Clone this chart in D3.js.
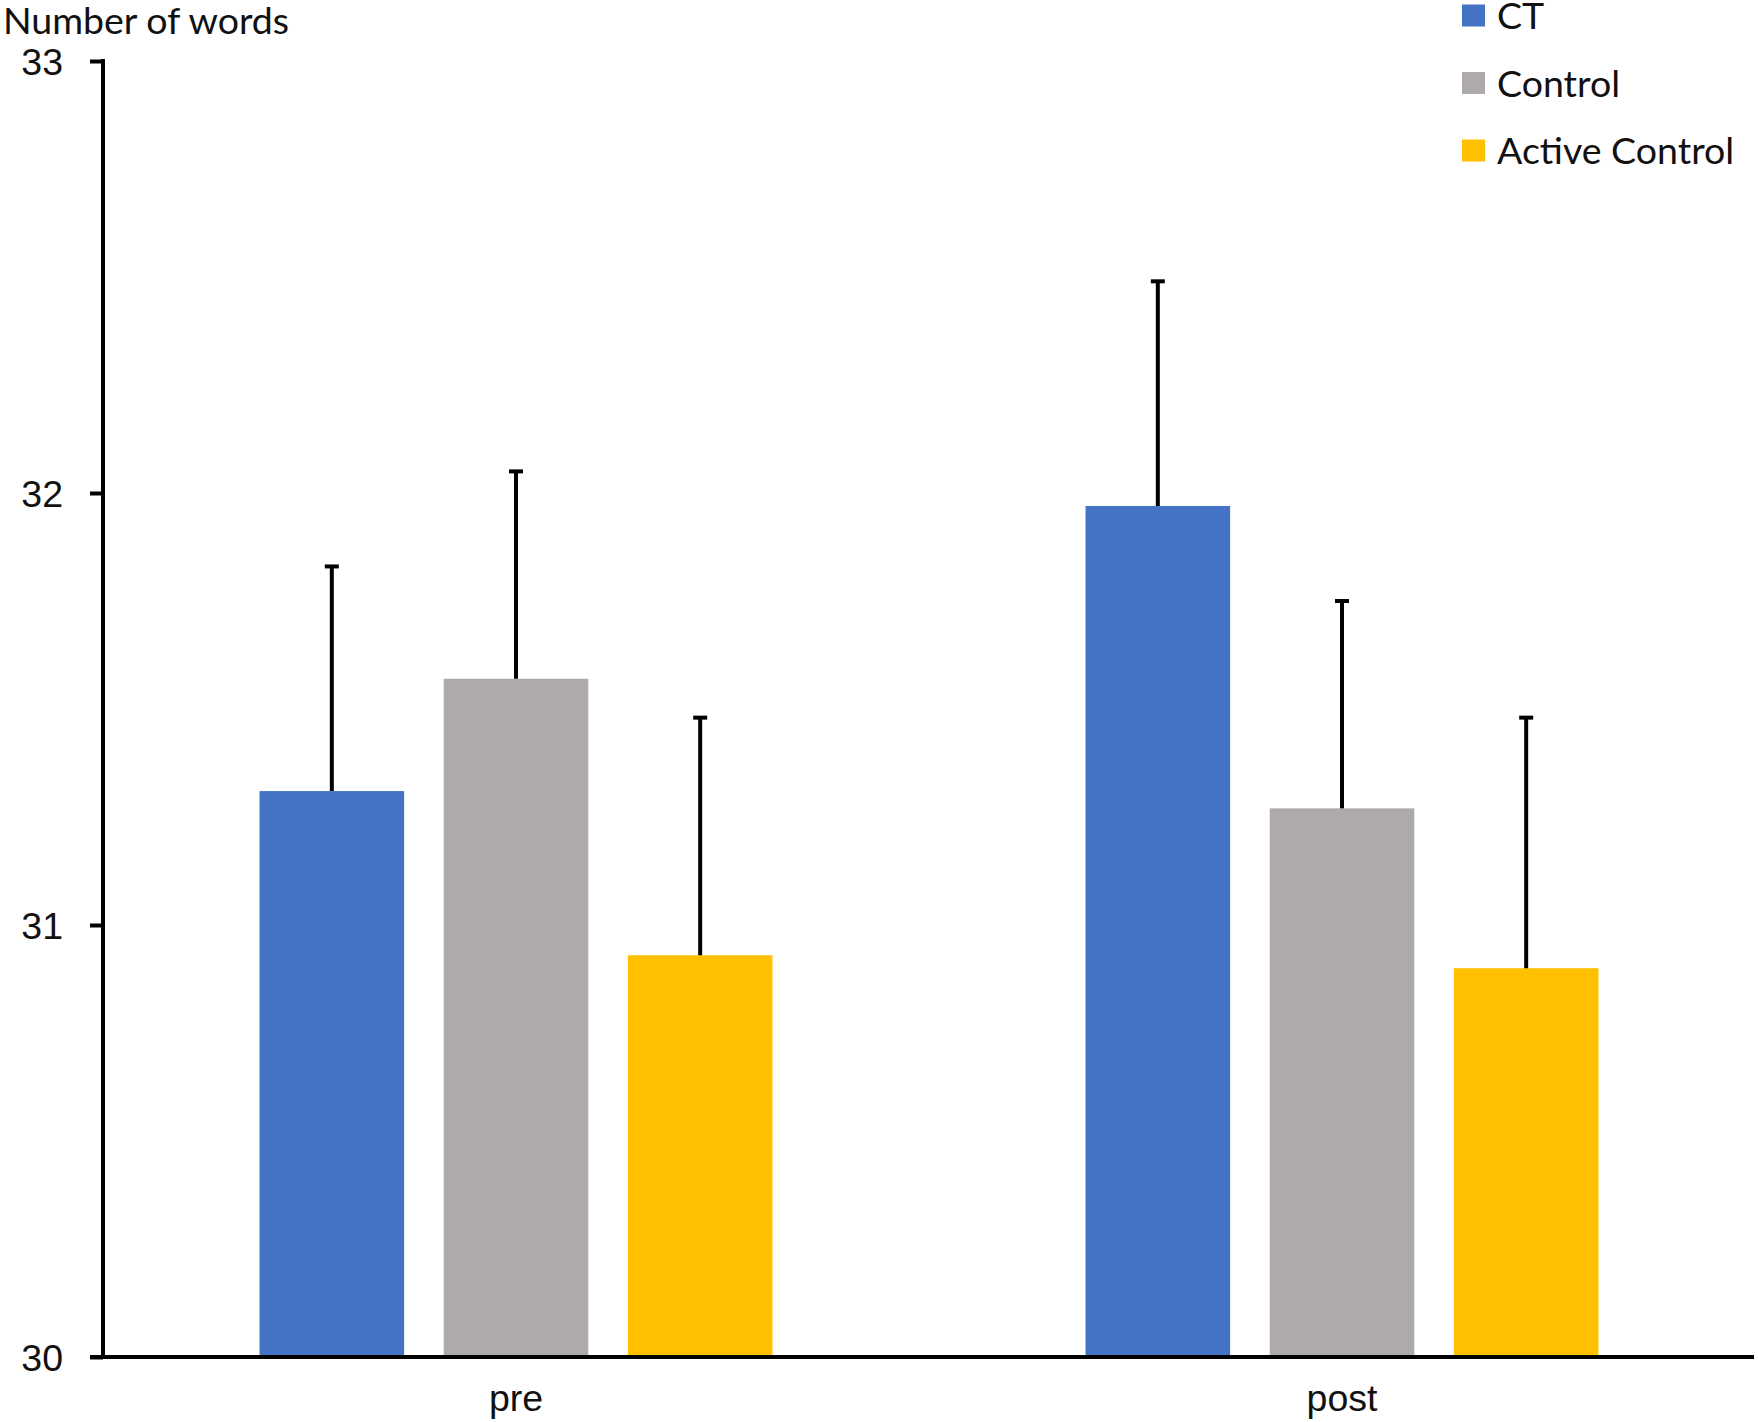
<!DOCTYPE html>
<html>
<head>
<meta charset="utf-8">
<script src="https://cdn.jsdelivr.net/npm/d3@7"></script>
<style>
  body { margin: 0; background: #fff; }
  svg { display: block; font-family: Lato, "Liberation Sans", sans-serif; }
</style>
</head>
<body>
<svg id="chart" width="1758" height="1422"></svg>
<script>
const categories = ["pre", "post"];
const series = ["CT", "Control", "Active Control"];
const seriesColors = ["#4472C4", "#AEAAAA", "#FFC000"];
// mean number of words per group, one array per series (pre, post)
const ctValues = [31.31, 31.97];
const controlValues = [31.57, 31.27];
const activeValues = [30.93, 30.90];
// upper error bar length
const ctErrors = [0.52, 0.52];
const controlErrors = [0.48, 0.48];
const activeErrors = [0.55, 0.58];
const yTicks = [30, 31, 32, 33];
const yLabel = "Number of words";

const W = 1758, H = 1422;
const margin = { top: 61, right: 3, bottom: 65, left: 103 };
const FONT = 37.5;

const svg = d3.select("#chart");

const valuesBySeries = [ctValues, controlValues, activeValues];
const errorsBySeries = [ctErrors, controlErrors, activeErrors];
const rows = [];
categories.forEach((c, i) => {
  series.forEach((s, j) => {
    rows.push({ cat: c, series: s, value: valuesBySeries[j][i], err: errorsBySeries[j][i], color: seriesColors[j] });
  });
});

const x0 = d3.scaleBand().domain(categories).range([margin.left, W - margin.right]).padding(0);
const clusterW = x0.bandwidth() * 0.621;
const x1 = d3.scaleBand().domain(series).range([-clusterW / 2, clusterW / 2])
  .paddingInner(0.215).paddingOuter(0);
const y = d3.scaleLinear().domain([30, 33]).range([H - margin.bottom, margin.top]);

// bars
svg.append("g").selectAll("rect").data(rows).join("rect")
  .attr("x", d => x0(d.cat) + x0.bandwidth() / 2 + x1(d.series))
  .attr("y", d => y(d.value))
  .attr("width", x1.bandwidth())
  .attr("height", d => y(30) - y(d.value))
  .attr("fill", d => d.color);

// error bars (upper only)
const eb = svg.append("g").selectAll("g").data(rows).join("g")
  .attr("transform", d => `translate(${x0(d.cat) + x0.bandwidth() / 2 + x1(d.series) + x1.bandwidth() / 2},0)`);
eb.append("line")
  .attr("x1", 0).attr("x2", 0)
  .attr("y1", d => y(d.value)).attr("y2", d => y(d.value + d.err))
  .attr("stroke", "#000").attr("stroke-width", 4);
eb.append("line")
  .attr("x1", -7).attr("x2", 7)
  .attr("y1", d => y(d.value + d.err)).attr("y2", d => y(d.value + d.err))
  .attr("stroke", "#000").attr("stroke-width", 4);

// y axis
const yAxis = svg.append("g").attr("transform", `translate(${margin.left},0)`)
  .call(d3.axisLeft(y).tickValues(yTicks).tickFormat(d3.format("d")).tickSize(13).tickPadding(27));
yAxis.select(".domain").attr("stroke", "#000").attr("stroke-width", 4)
  .attr("d", `M0,${y(33) - 2}V${y(30)}`);
yAxis.selectAll(".tick line").attr("stroke", "#000").attr("stroke-width", 4);
yAxis.selectAll(".tick text").attr("fill", "#111").style("font-size", FONT + "px").attr("dy", "0.36em");

// x axis
const xAxis = svg.append("g").attr("transform", `translate(0,${y(30)})`)
  .call(d3.axisBottom(x0).tickSize(0).tickPadding(27));
xAxis.select(".domain").attr("stroke", "#000").attr("stroke-width", 4)
  .attr("d", `M${margin.left - 13},0H${W - 4}`);
xAxis.selectAll(".tick text").attr("fill", "#111").style("font-size", FONT + "px");

// axis title
svg.append("text").attr("x", 3).attr("y", 34)
  .attr("fill", "#111").style("font-size", FONT + "px").text(yLabel);

// legend
const lg = svg.append("g").selectAll("g").data(series).join("g")
  .attr("transform", (d, i) => `translate(1462,${15.5 + i * 67.5})`);
lg.append("rect").attr("x", 0).attr("y", -11).attr("width", 23).attr("height", 22)
  .attr("fill", (d, i) => seriesColors[i]);
lg.append("text").attr("x", 35).attr("y", 13.5)
  .attr("fill", "#111").style("font-size", FONT + "px").text(d => d);
</script>
</body>
</html>
